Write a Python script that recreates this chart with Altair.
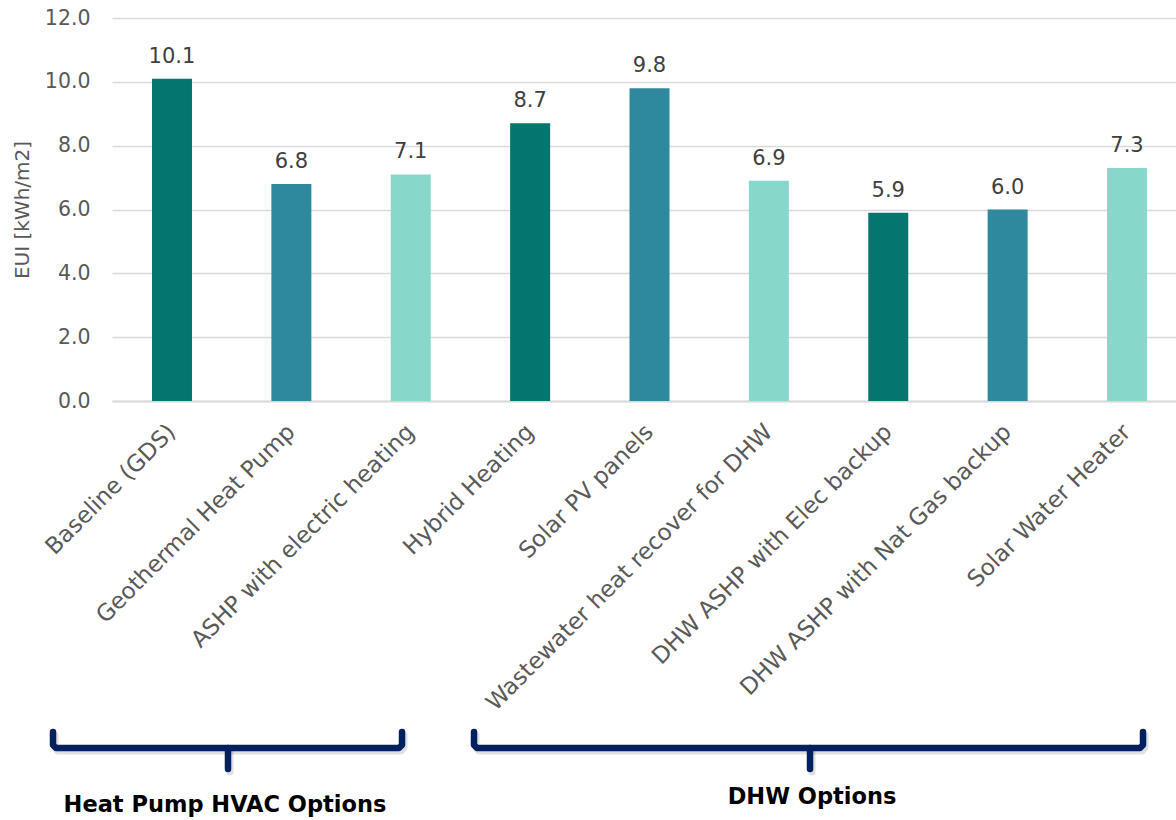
import altair as alt
import pandas as pd

# ---- data -------------------------------------------------------------
options = [
    "Baseline (GDS)",
    "Geothermal Heat Pump",
    "ASHP with electric heating",
    "Hybrid Heating",
    "Solar PV panels",
    "Wastewater heat recover for DHW",
    "DHW ASHP with Elec backup",
    "DHW ASHP with Nat Gas backup",
    "Solar Water Heater",
]
eui = [10.1, 6.8, 7.1, 8.7, 9.8, 6.9, 5.9, 6.0, 7.3]
group_names = ["Heat Pump HVAC Options", "DHW Options"]

# ---- styling ----------------------------------------------------------
FONT = "DejaVu Sans"
TONE_COLORS = ["#04756F", "#2E899E", "#87D7CB"]
NAVY = "#03215F"
PLOT_W, PLOT_H = 1064, 383

tones = [f"t{i % 3}" for i in range(len(options))]
bars_df = pd.DataFrame({"option": options, "eui": eui, "tone": tones})

x_enc = alt.X(
    "option:N",
    sort=options,
    title=None,
    scale=alt.Scale(range=[0, 1075], paddingInner=0.665, paddingOuter=0.335),
    axis=alt.Axis(
        labelAngle=-45,
        labelAlign="right",
        labelBaseline="middle",
        labelPadding=27,
        labelFontSize=23,
        labelColor="#595959",
        labelFont=FONT,
        labelLimit=600,
        ticks=False,
        domain=True,
        domainColor="#D9D9D9",
        domainWidth=2,
        grid=False,
    ),
)
y_enc = alt.Y(
    "eui:Q",
    scale=alt.Scale(domain=[0, 12], nice=False),
    axis=alt.Axis(
        values=[0, 2, 4, 6, 8, 10, 12],
        format=".1f",
        title="EUI [kWh/m2]",
        titleFont=FONT,
        titleFontSize=20,
        titleFontWeight="normal",
        titleColor="#595959",
        titleAngle=270,
        titleX=-90,
        titleY=PLOT_H / 2,
        titleAlign="center",
        titleBaseline="middle",
        labelFont=FONT,
        labelFontSize=20.5,
        labelColor="#595959",
        labelPadding=22,
        ticks=False,
        domain=False,
        gridColor="#D9D9D9",
        gridWidth=1.5,
    ),
)

bars = alt.Chart(bars_df).mark_bar(size=40).encode(
    x=x_enc,
    y=y_enc,
    color=alt.Color("tone:N", scale=alt.Scale(domain=["t0", "t1", "t2"], range=TONE_COLORS), legend=None),
)
values = alt.Chart(bars_df).mark_text(
    baseline="bottom", dy=-12, fontSize=21, font=FONT, color="#404040"
).encode(x=alt.X("option:N", sort=options), y="eui:Q", text=alt.Text("eui:Q", format=".1f"))

# ---- group brackets beneath the category labels ------------------------
bracket_layout = [
    {"left": -59, "right": 290, "mid": 116, "label_x": 113, "label_y": 787},
    {"left": 362, "right": 1031, "mid": 698, "label_x": 700, "label_y": 779},
]
TOP, LINE, TIP = 714, 730, 751

rows, labels = [], []
for name, b in zip(group_names, bracket_layout):
    frame = [
        (b["left"], TOP), (b["left"], LINE - 3), (b["left"] + 3, LINE),
        (b["right"] - 3, LINE), (b["right"], LINE - 3), (b["right"], TOP),
    ]
    for i, (px, py) in enumerate(frame):
        rows.append({"key": name + "-frame", "step": i, "px": px, "py": py})
    for i, (px, py) in enumerate([(b["mid"], LINE), (b["mid"], TIP)]):
        rows.append({"key": name + "-tip", "step": i, "px": px, "py": py})
    labels.append({"name": name, "lx": b["label_x"], "ly": b["label_y"]})

path_df = pd.DataFrame(rows)
label_df = pd.DataFrame(labels)

shadow = alt.Chart(path_df).mark_line(
    strokeWidth=7, strokeCap="round", strokeJoin="round", color="#000000", opacity=0.12
).encode(
    x=alt.X("sx:Q", scale=None, axis=None),
    y=alt.Y("sy:Q", scale=None, axis=None),
    detail="key:N",
    order="step:Q",
).transform_calculate(sx="datum.px + 2", sy="datum.py + 3")

brackets = alt.Chart(path_df).mark_line(
    strokeWidth=6.5, strokeCap="round", strokeJoin="round", color=NAVY
).encode(
    x=alt.X("px:Q", scale=None, axis=None),
    y=alt.Y("py:Q", scale=None, axis=None),
    detail="key:N",
    order="step:Q",
)

group_text = alt.Chart(label_df).mark_text(
    font=FONT, fontSize=22.5, fontWeight="bold", color="#000000", align="center", baseline="middle"
).encode(
    x=alt.X("lx:Q", scale=None, axis=None),
    y=alt.Y("ly:Q", scale=None, axis=None),
    text="name:N",
)

main = alt.layer(bars, values)
chart = (
    alt.layer(main, shadow, brackets, group_text)
    .resolve_scale(x="independent", y="independent")
    .properties(
        width=PLOT_W,
        height=PLOT_H,
        autosize=alt.AutoSizeParams(type="none"),
        padding={"left": 112, "top": 18, "right": 0, "bottom": 419},
        background="white",
    )
    .configure_view(stroke=None)
)

chart.save("out.html", embed_options={"renderer": "svg", "actions": False})
